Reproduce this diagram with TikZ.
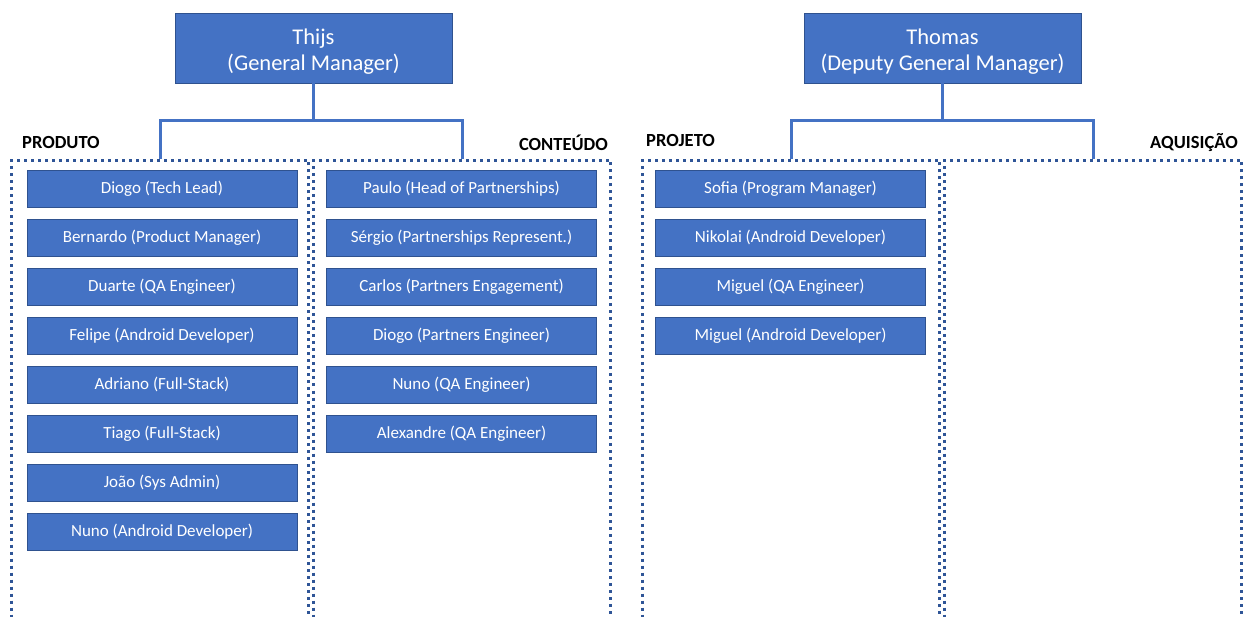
\documentclass[tikz,border=0pt]{standalone}
\usepackage{fontspec}
\setmainfont{Carlito}
\definecolor{boxfill}{HTML}{4472C4}
\definecolor{boxline}{HTML}{2F528F}
\definecolor{dotline}{HTML}{2F5597}
\begin{document}
\begin{tikzpicture}[x=1pt,y=-1pt,
  person/.style={draw=boxline,line width=0.8pt,fill=boxfill,text=white,minimum width=270pt,minimum height=37pt,inner sep=0pt,font=\fontsize{17}{20}\selectfont},
  head/.style={draw=boxline,line width=0.8pt,fill=boxfill,text=white,minimum width=277pt,minimum height=70pt,inner sep=0pt,align=center,font=\fontsize{22.5}{26}\selectfont},
  group/.style={draw=dotline,line width=3pt,dash pattern=on 3pt off 4pt,minimum width=297pt,minimum height=520pt,anchor=north,inner sep=0pt},
  conn/.style={draw=boxfill,line width=3pt},
  glabel/.style={font=\fontsize{18.5}{20}\selectfont\bfseries,inner sep=0pt}]
\useasboundingbox (0,0) rectangle (1246,617);
\clip (0,0) rectangle (1246,617);
\fill[white] (0,0) rectangle (1246,617);
% heads
\node[head] (thijs) at (313.5,48) {\rule{0pt}{22pt}Thijs\\(General Manager)};
\node[head] (thomas) at (942.5,48) {\rule{0pt}{22pt}Thomas\\(Deputy General Manager)};
% groups
\node[group] (produto) at (160,159) {};
\node[group] (conteudo) at (462,159) {};
\node[group] (projeto) at (791,159) {};
\node[group] (aquisicao) at (1093,159) {};
\node[glabel,anchor=west] (lprod) at (22,143) {PRODUTO};
\node[glabel,anchor=east] (lcont) at (608,143) {CONTEÚDO};
\node[glabel,anchor=west] (lproj) at (646,141) {PROJETO};
\node[glabel,anchor=east] (laqui) at (1238,143) {AQUISIÇÃO};
% connectors
\coordinate (b1) at (313.5,121);
\coordinate (b2) at (942.5,121);
\draw[conn] (thijs.south) -- (b1);
\draw[conn] (produto.north) |- (b1) -| (conteudo.north);
\draw[conn] (thomas.south) -- (b2);
\draw[conn] (projeto.north) |- (b2) -| (aquisicao.north);
% produto
\node[person] (p1) at (162,188.5) {Diogo (Tech Lead)};
\node[person] (p2) at (162,237.5) {Bernardo (Product Manager)};
\node[person] (p3) at (162,286.5) {Duarte (QA Engineer)};
\node[person] (p4) at (162,335.5) {Felipe (Android Developer)};
\node[person] (p5) at (162,384.5) {Adriano (Full-Stack)};
\node[person] (p6) at (162,433.5) {Tiago (Full-Stack)};
\node[person] (p7) at (162,482.5) {João (Sys Admin)};
\node[person] (p8) at (162,531.5) {Nuno (Android Developer)};
% conteudo
\node[person] (c1) at (461.5,188.5) {Paulo (Head of Partnerships)};
\node[person] (c2) at (461.5,237.5) {Sérgio (Partnerships Represent.)};
\node[person] (c3) at (461.5,286.5) {Carlos (Partners Engagement)};
\node[person] (c4) at (461.5,335.5) {Diogo (Partners Engineer)};
\node[person] (c5) at (461.5,384.5) {Nuno (QA Engineer)};
\node[person] (c6) at (461.5,433.5) {Alexandre (QA Engineer)};
% projeto
\node[person] (j1) at (790.5,188.5) {Sofia (Program Manager)};
\node[person] (j2) at (790.5,237.5) {Nikolai (Android Developer)};
\node[person] (j3) at (790.5,286.5) {Miguel (QA Engineer)};
\node[person] (j4) at (790.5,335.5) {Miguel (Android Developer)};
\end{tikzpicture}
\end{document}
